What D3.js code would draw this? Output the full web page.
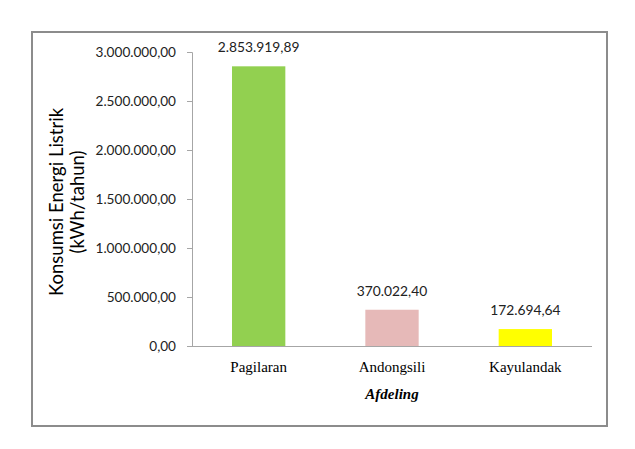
<!DOCTYPE html>
<html><head><meta charset="utf-8">
<script src="https://cdn.jsdelivr.net/npm/d3@7"></script>
<style>body{margin:0;background:#fff}</style>
</head><body>
<svg id="c" width="635" height="449"></svg>
<script>
const categories = ["Pagilaran", "Andongsili", "Kayulandak"];
const values = [2853919.89, 370022.40, 172694.64];
const colors = ["#92d050", "#e6b9b8", "#ffff00"];
const yTicks = [0, 500000, 1000000, 1500000, 2000000, 2500000, 3000000];
const yTitle = ["Konsumsi Energi Listrik", "(kWh/tahun)"];
const xTitle = "Afdeling";

const fmt = v => {
  const [i, d] = v.toFixed(2).split(".");
  return i.replace(/\B(?=(\d{3})+(?!\d))/g, ".") + "," + d;
};

const svg = d3.select("#c");
svg.append("rect").attr("x", 32).attr("y", 32).attr("width", 575).attr("height", 394)
  .attr("fill", "#fff").attr("stroke", "#8c8c8c").attr("stroke-width", 2);

const x = d3.scaleBand().domain(categories).range([192, 592]).paddingInner(0.6).paddingOuter(0.3);
const y = d3.scaleLinear().domain([0, 3000000]).range([346, 52]);

const yAxis = svg.append("g").attr("transform", "translate(192,0)")
  .call(d3.axisLeft(y).tickValues(yTicks).tickFormat(fmt).tickSize(5).tickPadding(11));
yAxis.select(".domain").attr("stroke", "#a6a6a6");
yAxis.selectAll(".tick line").attr("stroke", "#a6a6a6");
yAxis.selectAll(".tick text").attr("font-family", "Lato").attr("font-size", 13.6).attr("fill", "#222");

svg.selectAll("rect.bar").data(values).join("rect").attr("class", "bar")
  .attr("x", (d, i) => x(categories[i])).attr("width", x.bandwidth())
  .attr("y", d => y(d)).attr("height", d => y(0) - y(d))
  .attr("fill", (d, i) => colors[i]);

const xAxis = svg.append("g").attr("transform", "translate(0,346)")
  .call(d3.axisBottom(x).tickSize(0).tickPadding(15));
xAxis.select(".domain").attr("stroke", "#a6a6a6").attr("d", "M192,0.5H592");
xAxis.selectAll(".tick text").attr("font-family", "Liberation Serif").attr("font-size", 15).attr("fill", "#000");

svg.selectAll("text.lbl").data(values).join("text").attr("class", "lbl")
  .attr("x", (d, i) => x(categories[i]) + x.bandwidth() / 2)
  .attr("y", d => y(d) - 14)
  .attr("text-anchor", "middle").attr("font-family", "Lato").attr("font-size", 13.8).attr("fill", "#222")
  .text(d => fmt(d));

svg.append("text").attr("x", x("Andongsili") + x.bandwidth() / 2).attr("y", 399)
  .attr("text-anchor", "middle").attr("font-family", "Liberation Serif").attr("font-size", 15)
  .attr("font-weight", "bold").attr("font-style", "italic").text(xTitle);

const yt = svg.append("text").attr("transform", "translate(63,202) rotate(-90)")
  .attr("text-anchor", "middle").attr("font-family", "Lato").attr("font-size", 18.5).attr("fill", "#000");
yTitle.forEach((t, i) => yt.append("tspan").attr("x", 0).attr("dy", i ? 21 : 0).text(t));
</script>
</body></html>
